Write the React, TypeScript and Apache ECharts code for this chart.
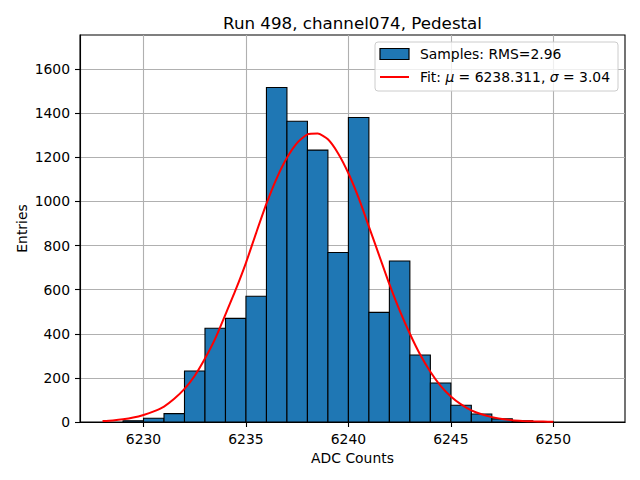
import React, { useEffect, useRef } from "react";
import * as echarts from "echarts";

// Histogram bins (left edge, width 1) and counts
const BIN_LEFT = [6229, 6230, 6231, 6232, 6233, 6234, 6235, 6236, 6237, 6238, 6239, 6240, 6241, 6242, 6243, 6244, 6245, 6246, 6247, 6248, 6249];
const BIN_COUNTS = [6, 17, 38, 231, 425, 470, 570, 1517, 1364, 1233, 769, 1381, 497, 730, 304, 177, 76, 36, 14, 5, 2];
const BIN_WIDTH = 1;

// Fit curve, every half count
const FIT_X = [
  6228, 6228.5, 6229, 6229.5, 6230, 6230.5, 6231, 6231.5, 6232, 6232.5, 6233, 6233.5,
  6234, 6234.5, 6235, 6235.5, 6236, 6236.5, 6237, 6237.5, 6238, 6238.5, 6239, 6239.5,
  6240, 6240.5, 6241, 6241.5, 6242, 6242.5, 6243, 6243.5, 6244, 6244.5, 6245, 6245.5,
  6246, 6246.5, 6247, 6247.5, 6248, 6248.5, 6249, 6249.5, 6250,
];
const FIT_Y = [
  4, 7, 12, 20, 32, 48, 70, 105, 150, 210, 288, 378,
  488, 600, 722, 858, 990, 1105, 1198, 1266, 1304, 1308, 1282, 1218,
  1128, 1016, 886, 756, 625, 506, 400, 306, 228, 164, 116, 80,
  53, 35, 22, 14, 8, 5, 3, 2, 1,
];

const X_TICKS = [6230, 6235, 6240, 6245, 6250];
const Y_TICKS = [0, 200, 400, 600, 800, 1000, 1200, 1400, 1600];

const TITLE = "Run 498, channel074, Pedestal";
const X_NAME = "ADC Counts";
const Y_NAME = "Entries";
const HIST_NAME = "Samples: RMS=2.96";
const FIT_NAME = "Fit: μ = 6238.311, σ = 3.04";

const FONT = "DejaVu Sans";

export default function App() {
  const ref = useRef<HTMLDivElement>(null);
  useEffect(() => {
    document.body.style.margin = "0";
    if (!ref.current) return;
    const chart = echarts.init(ref.current, null, { renderer: "svg" });
    const histData = BIN_LEFT.map((l, i) => [l, l + BIN_WIDTH, BIN_COUNTS[i]]);
    const fitData = FIT_X.map((x, i) => [x, FIT_Y[i]]);
    chart.setOption({
      animation: false,
      textStyle: { fontFamily: FONT },
      title: {
        text: TITLE,
        left: 352.5,
        textAlign: "center",
        top: 14,
        padding: 0,
        textStyle: { fontFamily: FONT, fontSize: 16.7, fontWeight: "normal", color: "#000" },
      },
      grid: {
        left: 80,
        right: 15,
        top: 35,
        bottom: 58,
        show: true,
        borderColor: "#000",
        borderWidth: 1.1,
        backgroundColor: "#fff",
      },
      legend: {
        orient: "vertical",
        right: 22,
        top: 42,
        padding: [5, 8, 7, 4],
        itemWidth: 29,
        itemHeight: 11,
        itemGap: 9,
        backgroundColor: "rgba(255,255,255,0.8)",
        borderColor: "#cccccc",
        borderWidth: 1,
        borderRadius: 3,
        selectedMode: false,
        textStyle: {
          fontFamily: FONT,
          fontSize: 13.9,
          color: "#000",
          lineHeight: 14,
          padding: [0, 0, 0, 6],
          rich: {
            i: { fontFamily: FONT, fontSize: 13.9, fontStyle: "italic", color: "#000" },
          },
        },
        formatter: (name: string) => name.replace(/([μσ])/g, "{i|$1}"),
        data: [
          { name: HIST_NAME, icon: "rect", itemStyle: { color: "#1f77b4", borderColor: "#000", borderWidth: 1.2 } },
          {
            name: FIT_NAME,
            itemStyle: { color: "rgba(0,0,0,0)", borderColor: "rgba(0,0,0,0)", borderWidth: 0 },
            lineStyle: { color: "#ff0000", width: 2 },
          },
        ],
      },
      xAxis: {
        type: "value",
        min: 6226.9,
        max: 6253.5,
        minInterval: 5,
        maxInterval: 5,
        name: X_NAME,
        nameLocation: "middle",
        nameGap: 26,
        nameTextStyle: { fontFamily: FONT, fontSize: 13.9, color: "#000" },
        axisLine: { show: true, lineStyle: { color: "#000", width: 1.1 } },
        axisTick: { show: true, length: 5, customValues: X_TICKS, lineStyle: { color: "#000", width: 1.1 } },
        axisLabel: {
          customValues: X_TICKS,
          margin: 10,
          fontFamily: FONT,
          fontSize: 13.9,
          color: "#000",
          formatter: (v: number) => String(v),
        },
        splitLine: { show: true, lineStyle: { color: "#b0b0b0", width: 1.1 } },
      },
      yAxis: {
        type: "value",
        min: 0,
        max: 1755,
        minInterval: 200,
        maxInterval: 200,
        name: Y_NAME,
        nameLocation: "middle",
        nameGap: 51,
        nameMoveOverlap: false,
        nameTextStyle: { fontFamily: FONT, fontSize: 13.9, color: "#000" },
        axisLine: { show: true, lineStyle: { color: "#000", width: 1.1 } },
        axisTick: { show: true, length: 5, customValues: Y_TICKS, lineStyle: { color: "#000", width: 1.1 } },
        axisLabel: {
          customValues: Y_TICKS,
          margin: 10,
          fontFamily: FONT,
          fontSize: 13.9,
          color: "#000",
          formatter: (v: number) => String(v),
        },
        splitLine: { show: true, lineStyle: { color: "#b0b0b0", width: 1.1 } },
      },
      series: [
        {
          name: HIST_NAME,
          type: "custom",
          z: 2,
          clip: true,
          itemStyle: { color: "#1f77b4", borderColor: "#000", borderWidth: 1.1 },
          encode: { x: [0, 1], y: 2 },
          data: histData,
          renderItem: (params: any, api: any) => {
            const x0 = api.value(0);
            const x1 = api.value(1);
            const c = api.value(2);
            const p0 = api.coord([x0, c]);
            const p1 = api.coord([x1, 0]);
            return {
              type: "rect",
              shape: { x: p0[0], y: p0[1], width: p1[0] - p0[0], height: p1[1] - p0[1] },
              style: { fill: "#1f77b4", stroke: "#000", lineWidth: 1.1 },
            };
          },
        },
        {
          name: FIT_NAME,
          type: "line",
          z: 3,
          data: fitData,
          smooth: 0.2,
          symbol: "none",
          lineStyle: { color: "#ff0000", width: 2 },
          itemStyle: { color: "#ff0000" },
        },
      ],
    });
    return () => chart.dispose();
  }, []);
  return <div ref={ref} style={{ width: 640, height: 480 }} />;
}
